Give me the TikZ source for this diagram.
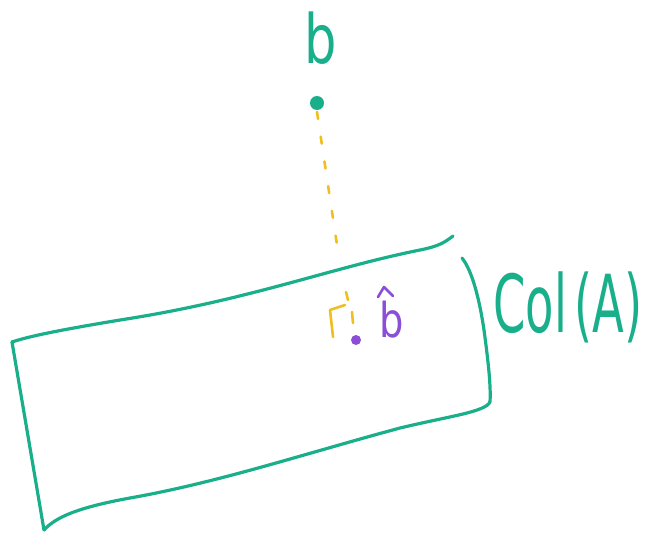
\documentclass[tikz,border=0pt]{standalone}
\usepackage{fontspec}
\usepackage{graphicx}
\setmainfont{DejaVu Sans}
\definecolor{tealg}{HTML}{1AAF8B}
\definecolor{yel}{HTML}{F0BE1E}
\definecolor{purp}{HTML}{8A4FD6}
\begin{document}
\begin{tikzpicture}[x=1pt,y=-1pt,
  pen/.style={line width=3.2pt,line cap=round,line join=round},
  gpen/.style={pen,tealg},
  ypen/.style={pen,yel,line width=2.6pt},
  lbl/.style={inner sep=0pt,anchor=center}]
\useasboundingbox (0,0) rectangle (647,533);
% plane
\draw[gpen] (453,236) .. controls (445,242) and (440,246) .. (420,250)
  .. controls (330,268) and (250,300) .. (120,320)
  .. controls (60,330) and (30,336) .. (12,342);
\draw[gpen] (12,342) -- (44,530);
\draw[gpen] (44,530) .. controls (55,518) and (75,508) .. (130,498)
  .. controls (220,482) and (300,455) .. (400,428)
  .. controls (450,416) and (485,412) .. (490,402);
\draw[gpen] (462,258) .. controls (470,268) and (478,290) .. (484,330)
  .. controls (488,360) and (491,385) .. (490,402);
% b point
\node[lbl,text=tealg] (blbl) at (321,38) {\scalebox{0.75}[1]{\fontsize{68}{68}\selectfont b}};
\fill[tealg] (317,103) circle (7);
\coordinate (bpt) at (317,112);
\coordinate (cross) at (337,245);
\draw[ypen,dash pattern=on 7pt off 18pt] (bpt) -- (cross);
\draw[ypen] (346,292) -- (348,300);
\draw[ypen] (352,312) -- (353,323);
% right angle
\draw[ypen] (333,337) -- (330,310) -- (345,305);
% projection
\fill[purp] (356,340) circle (5);
\node[lbl,text=purp] (bhat) at (392,320) {\scalebox{0.8}[1]{\fontsize{48}{48}\selectfont b}};
\draw[pen,purp,line width=2.6pt] (378,297) -- (384,287) -- (393,296);
% Col(A)
\node[lbl,text=tealg] (col) at (568,307) {\scalebox{0.58}[1]{\fontsize{80}{80}\selectfont Col\,(A)}};
\end{tikzpicture}
\end{document}
